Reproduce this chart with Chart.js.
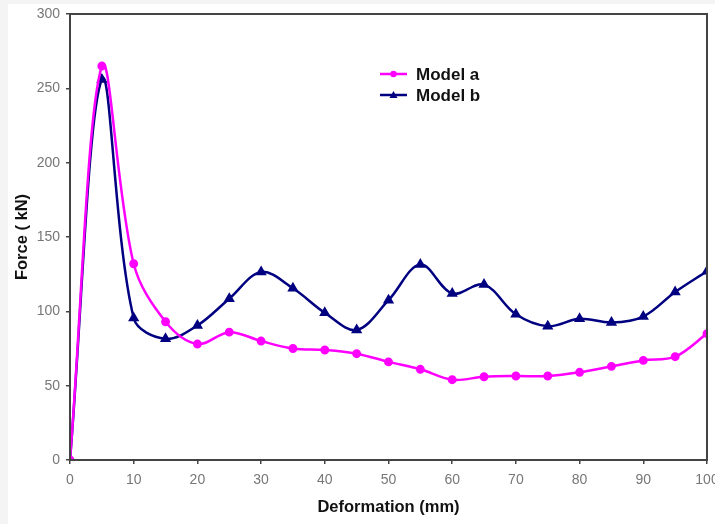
<!DOCTYPE html>
<html>
<head>
<meta charset="utf-8">
<script src="https://cdn.jsdelivr.net/npm/chart.js@4"></script>
<style>
  body { margin: 0; background: #f4f4f4; }
  #wrap { width: 715px; height: 524px; }
</style>
</head>
<body>
<div id="wrap"><canvas id="forceChart" width="715" height="524"></canvas></div>
<script>
const deformation = [0, 5, 10, 15, 20, 25, 30, 35, 40, 45, 50, 55, 60, 65, 70, 75, 80, 85, 90, 95, 100];
const modelA = [0, 265, 132, 93, 78, 86, 80, 75, 74, 71.5, 66, 61, 54, 56, 56.5, 56.5, 59, 63, 67, 69.5, 85];
const modelB = [0, 256, 95.5, 81.5, 90.5, 108.5, 126.5, 115.5, 99, 87.5, 107.5, 131.5, 112, 118, 98, 90, 95, 92.5, 96.5, 113, 127];
const yTicks = [0, 50, 100, 150, 200, 250, 300];

const FONT = '"Liberation Sans", Arial, sans-serif';
const toPoints = (xs, ys) => xs.map((x, i) => ({ x: x, y: ys[i] }));

// white page with the thin grey margin on top/left, plus the box round the plot
const frame = {
  id: 'frame',
  beforeDraw(chart) {
    const c = chart.ctx;
    c.save();
    c.fillStyle = '#f4f4f4';
    c.fillRect(0, 0, chart.width, chart.height);
    c.fillStyle = '#ffffff';
    c.fillRect(8, 4, chart.width - 8, chart.height - 4);
    c.restore();
  },
  afterDatasetsDraw(chart) {
    const a = chart.chartArea;
    const c = chart.ctx;
    c.save();
    c.strokeStyle = '#444';
    c.lineWidth = 2;
    c.strokeRect(a.left, a.top, a.right - a.left, a.bottom - a.top);
    c.restore();
  }
};

// legend sits inside the plot like the original
const innerLegend = {
  id: 'innerLegend',
  afterDraw(chart) {
    const c = chart.ctx;
    c.save();
    c.font = 'bold 17px ' + FONT;
    c.textBaseline = 'middle';
    chart.data.datasets.forEach((ds, i) => {
      const y = 74 + i * 21;
      c.strokeStyle = ds.borderColor;
      c.lineWidth = 2.5;
      c.beginPath();
      c.moveTo(380, y);
      c.lineTo(407, y);
      c.stroke();
      c.fillStyle = ds.borderColor;
      c.beginPath();
      if (ds.pointStyle === 'triangle') {
        c.moveTo(393.5, y - 4);
        c.lineTo(397.5, y + 3);
        c.lineTo(389.5, y + 3);
        c.closePath();
      } else {
        c.arc(393.5, y, 3.2, 0, Math.PI * 2);
      }
      c.fill();
      c.fillStyle = '#111';
      c.fillText(ds.label, 416, y + 1);
    });
    c.restore();
  }
};

new Chart(document.getElementById('forceChart'), {
  type: 'line',
  data: {
    datasets: [{
      label: 'Model a',
      data: toPoints(deformation, modelA),
      borderColor: '#ff00ff',
      backgroundColor: '#ff00ff',
      borderWidth: 2.5,
      pointStyle: 'circle',
      pointRadius: 3.2,
      tension: 0.35
    }, {
      label: 'Model b',
      data: toPoints(deformation, modelB),
      borderColor: '#000080',
      backgroundColor: '#000080',
      borderWidth: 2.5,
      pointStyle: 'triangle',
      pointRadius: 4,
      tension: 0.35
    }]
  },
  plugins: [frame, innerLegend],
  options: {
    responsive: false,
    animation: false,
    layout: { padding: { left: 8, top: 14, right: 8, bottom: 0 } },
    plugins: {
      legend: { display: false },
      tooltip: { enabled: false }
    },
    scales: {
      x: {
        type: 'linear',
        min: 0,
        max: 100,
        ticks: {
          stepSize: 10,
          color: '#777',
          padding: 8,
          maxRotation: 0,
          font: { family: FONT, size: 14 }
        },
        grid: { drawOnChartArea: false, color: '#444', tickLength: 4, lineWidth: 1.5 },
        border: { color: '#444', width: 2 },
        title: {
          display: true,
          text: 'Deformation (mm)',
          color: '#111',
          padding: { top: 4, bottom: 7 },
          font: { family: FONT, size: 16.5, weight: 'bold' }
        },
        afterFit(scale) {
          scale.height = 64;
          scale.paddingLeft = 0;
          scale.paddingRight = 0;
        }
      },
      y: {
        min: 0,
        max: 300,
        afterBuildTicks(scale) {
          scale.ticks = yTicks.map(v => ({ value: v }));
        },
        ticks: {
          color: '#777',
          padding: 6,
          font: { family: FONT, size: 14 }
        },
        grid: { drawOnChartArea: false, color: '#444', tickLength: 4, lineWidth: 1.5 },
        border: { color: '#444', width: 2 },
        title: {
          display: true,
          text: 'Force ( kN)',
          color: '#111',
          padding: { top: 5, bottom: 4 },
          font: { family: FONT, size: 16.5, weight: 'bold' }
        },
        afterFit(scale) {
          scale.width = 62;
          scale.paddingTop = 0;
          scale.paddingBottom = 0;
        }
      }
    }
  }
});
</script>
</body>
</html>
